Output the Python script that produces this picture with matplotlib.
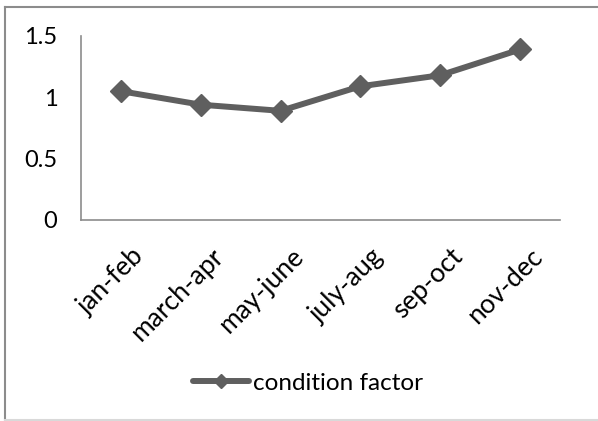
import matplotlib.pyplot as plt
from matplotlib.lines import Line2D
from matplotlib.transforms import ScaledTranslation

# ---- Condition factor by two-month period ----
periods = ['jan-feb', 'march-apr', 'may-june', 'july-aug', 'sep-oct', 'nov-dec']
condition_factor = [1.05, 0.94, 0.89, 1.09, 1.18, 1.39]
y_ticks = [0, 0.5, 1, 1.5]
y_tick_labels = ['0', '0.5', '1', '1.5']

plt.rcParams['font.family'] = ['Lato', 'DejaVu Sans']

W, H = 598, 421
fig = plt.figure(figsize=(W / 100, H / 100), dpi=100)
ax = fig.add_axes([81 / W, 1 - 220 / H, (560 - 81) / W, (220 - 36) / H])

line_color = '#5f5f5f'
x = range(len(periods))
ax.plot(x, condition_factor, color=line_color, linewidth=4.3, marker='D',
        markersize=11, markeredgecolor=line_color, markerfacecolor=line_color,
        solid_capstyle='round', label='condition factor')

ax.set_xlim(-0.5, len(periods) - 0.5)
ax.set_ylim(0, 1.5)
ax.set_yticks(y_ticks)
ax.set_yticklabels(y_tick_labels, fontsize=17)
ax.set_xticks(list(x))
ax.set_xticklabels(periods, fontsize=19, rotation=45, ha='right', va='top',
                   rotation_mode='anchor')
ax.tick_params(axis='both', length=0)
ax.tick_params(axis='y', pad=17)
ax.tick_params(axis='x', pad=17)

# nudge the slanted labels a little to the right of their categories
shift = ScaledTranslation(0.10, 0, fig.dpi_scale_trans)
for lbl in ax.get_xticklabels():
    lbl.set_transform(lbl.get_transform() + shift)

for side in ('top', 'right'):
    ax.spines[side].set_visible(False)
for side in ('left', 'bottom'):
    ax.spines[side].set_color('#8c8c8c')
    ax.spines[side].set_linewidth(1.2)

# legend below the axis labels
handle = Line2D([], [], color=line_color, linewidth=4.3, marker='D',
                markersize=7.5, solid_capstyle='round')
fig.legend([handle], ['condition factor'], loc='center',
           bbox_to_anchor=(308 / W, 1 - 383 / H), frameon=False,
           fontsize=17.5, handlelength=2.3, handletextpad=0.15)

# outer chart border
fig.add_artist(Line2D([5 / W, 5 / W], [1 - 7 / H, 1 - 420 / H],
                      transform=fig.transFigure, color='#8c8c8c', linewidth=1.5))
fig.add_artist(Line2D([5 / W, 1], [1 - 7 / H, 1 - 7 / H],
                      transform=fig.transFigure, color='#8c8c8c', linewidth=1.5))
fig.add_artist(Line2D([5 / W, 1], [1 - 420 / H, 1 - 420 / H],
                      transform=fig.transFigure, color='#d9d9d9', linewidth=1.5))

fig.savefig('out.png', dpi=100)
